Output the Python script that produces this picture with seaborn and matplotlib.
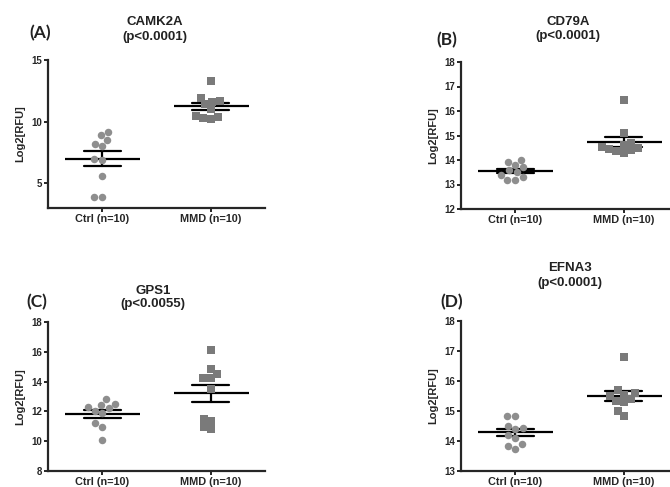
import pandas as pd
import seaborn as sns
import matplotlib.pyplot as plt

# values (Log2[RFU], n=10 per group)
groups = ["Ctrl (n=10)", "MMD (n=10)"]

camk2a_ctrl = [9.2, 8.9, 8.5, 8.2, 8.0, 7.0, 6.9, 5.6, 3.9, 3.9]
camk2a_mmd = [13.3, 11.9, 11.7, 11.6, 11.4, 11.0, 10.5, 10.4, 10.3, 10.2]
cd79a_ctrl = [14.0, 13.9, 13.8, 13.7, 13.6, 13.5, 13.4, 13.3, 13.2, 13.2]
cd79a_mmd = [16.45, 15.1, 14.7, 14.6, 14.55, 14.5, 14.45, 14.4, 14.35, 14.3]
gps1_ctrl = [12.8, 12.5, 12.4, 12.3, 12.2, 12.0, 11.9, 11.2, 10.95, 10.05]
gps1_mmd = [16.1, 14.85, 14.5, 14.25, 14.25, 13.5, 11.5, 11.35, 10.95, 10.8]
efna3_ctrl = [14.85, 14.85, 14.5, 14.45, 14.4, 14.2, 14.1, 13.9, 13.85, 13.75]
efna3_mmd = [16.8, 15.7, 15.55, 15.6, 15.5, 15.4, 15.35, 15.3, 15.0, 14.85]

genes = ["CAMK2A", "CD79A", "GPS1", "EFNA3"]
pvals = ["(p<0.0001)", "(p<0.0001)", "(p<0.0055)", "(p<0.0001)"]
letters = ["(A)", "(B)", "(C)", "(D)"]
ylims = [(3, 15), (12, 18), (8, 18), (13, 18)]
yticks = [[5, 10, 15], list(range(12, 19)), list(range(8, 19, 2)), list(range(13, 19))]
panel_data = [(camk2a_ctrl, camk2a_mmd), (cd79a_ctrl, cd79a_mmd),
              (gps1_ctrl, gps1_mmd), (efna3_ctrl, efna3_mmd)]

sns.set_style("ticks")
plt.rcParams['font.family'] = ['Liberation Sans', 'DejaVu Sans']

W, H = 670, 487
fig = plt.figure(figsize=(W / 100, H / 100), dpi=100)

# layout in pixels: axes box (left, top, right, bottom), title x / y lines, panel letter
boxes = [(48, 60, 265, 208), (461, 62, 678, 209), (48, 322, 265, 471), (461, 321, 678, 471)]
title_pos = [(155, 22, 37), (568, 22, 36), (153, 291, 304), (570, 268, 283)]
letter_pos = [(40, 33), (447, 40), (37, 302), (452, 302)]

for i in range(4):
    l, t, r, b = boxes[i]
    ax = fig.add_axes([l / W, 1 - b / H, (r - l) / W, (b - t) / H])
    ctrl, mmd = panel_data[i]
    df = pd.DataFrame({'group': [groups[0]] * len(ctrl) + [groups[1]] * len(mmd),
                       'value': ctrl + mmd})

    sns.swarmplot(x=[groups[0]] * len(ctrl), y=ctrl, order=groups, marker='o',
                  color='#8e8e8e', size=5.4, linewidth=0, ax=ax)
    sns.swarmplot(x=[groups[1]] * len(mmd), y=mmd, order=groups, marker='s',
                  color='#7a7a7a', size=5.2, linewidth=0, ax=ax)
    sns.pointplot(data=df, x='group', y='value', order=groups, errorbar='se',
                  capsize=0.34, color='black', marker='_', markersize=54,
                  markeredgewidth=1.6, linestyle='none',
                  err_kws={'linewidth': 1.6}, ax=ax)

    ax.set_xlim(-0.5, 1.5)
    ax.set_ylim(*ylims[i])
    ax.set_yticks(yticks[i])
    ax.set_xlabel('')
    ax.set_ylabel('Log2[RFU]', fontsize=8, fontweight='bold', labelpad=4)
    for lab in ax.get_xticklabels() + ax.get_yticklabels():
        lab.set_fontweight('bold')
    ax.tick_params(axis='x', labelsize=7.8, length=3, width=1.4, pad=1.5)
    ax.tick_params(axis='y', labelsize=7, length=3, width=1.4, pad=1.5)
    for side in ['left', 'bottom']:
        ax.spines[side].set_linewidth(1.6)
    sns.despine(ax=ax)
    ax.patch.set_alpha(0)

    tx, ty1, ty2 = title_pos[i]
    fig.text(tx / W, 1 - ty1 / H, genes[i], ha='center', va='center',
             fontsize=9.5, fontweight='bold', color='#222222')
    fig.text(tx / W, 1 - ty2 / H, pvals[i], ha='center', va='center',
             fontsize=9.5, fontweight='bold', color='#222222')
    lx, ly = letter_pos[i]
    fig.text(lx / W, 1 - ly / H, letters[i], ha='center', va='center',
             fontsize=12.5, fontweight='bold', family=['Lato', 'DejaVu Sans'],
             color='#222222')

fig.savefig('out.png', dpi=100)
